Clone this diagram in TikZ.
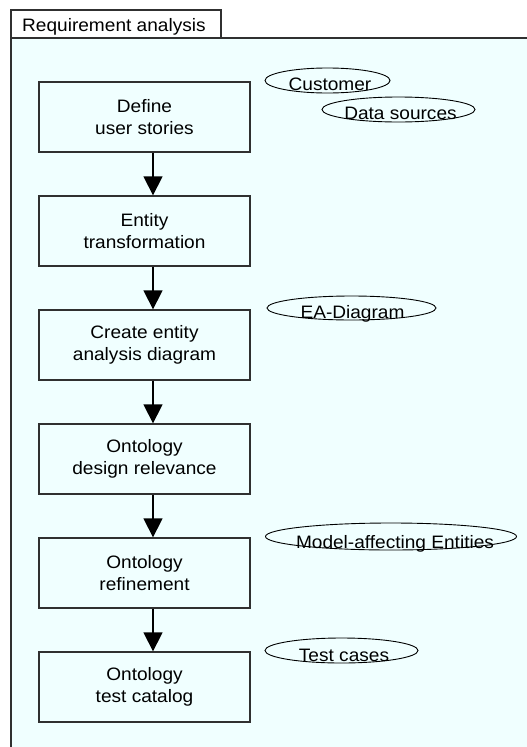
\documentclass[tikz,border=0pt]{standalone}
\usepackage{fontspec}
\setmainfont{Liberation Sans}[FakeStretch=1.06]
\usetikzlibrary{arrows.meta,shapes.geometric}
\definecolor{panel}{HTML}{F0FFFF}
\definecolor{frameline}{HTML}{303030}
\tikzset{
  stepbox/.style={draw=frameline, line width=1.3pt, rectangle, minimum width=211pt, minimum height=70pt,
    align=center, font=\fontsize{18}{22}\selectfont, inner sep=0pt},
  artifact/.style={draw=black, line width=0.9pt, ellipse, inner sep=0pt},
  arttext/.style={font=\fontsize{18}{22}\selectfont, anchor=base, inner sep=0pt},
  flow/.style={line width=1.3pt, -{Triangle[width=19pt,length=19pt]}},
}
\begin{document}
\begin{tikzpicture}[x=1pt,y=-1pt]
\useasboundingbox (0,0) rectangle (527,747);
\clip (0,0) rectangle (527,747);
\fill[white] (0,0) rectangle (527,747);
% frame
\filldraw[fill=panel, draw=frameline, line width=1.3pt] (11,38) rectangle (540,760);
\filldraw[fill=white, draw=frameline, line width=1.3pt] (11,10) rectangle (221,38);
\node[font=\fontsize{18}{22}\selectfont, anchor=base west, inner sep=0pt] (title) at (22,31) {Requirement analysis};
% steps
\node[stepbox] (s1) at (144.5,117) {Define\\user stories};
\node[stepbox] (s2) at (144.5,231) {Entity\\transformation};
\node[stepbox] (s3) at (144.5,345) {Create entity\\analysis diagram};
\node[stepbox] (s4) at (144.5,459) {Ontology\\design relevance};
\node[stepbox] (s5) at (144.5,573) {Ontology\\refinement};
\node[stepbox] (s6) at (144.5,687) {Ontology\\test catalog};
\foreach \a/\b in {s1/s2,s2/s3,s3/s4,s4/s5,s5/s6}
  \draw[flow] ([xshift=8.5pt]\a.south) -- ([xshift=8.5pt]\b.north);
% artifacts
\node[artifact, minimum width=125pt, minimum height=25pt] (cust) at (327.5,80.5) {};
\node[arttext] (custt) at (330,90) {Customer};
\node[artifact, minimum width=153pt, minimum height=25pt] (data) at (398.5,109.5) {};
\node[arttext] (datat) at (400.5,119) {Data sources};
\node[artifact, minimum width=169pt, minimum height=24pt] (ea) at (351.5,308) {};
\node[arttext] (eat) at (352.5,318) {EA-Diagram};
\node[artifact, minimum width=251pt, minimum height=27pt] (mae) at (391,536.5) {};
\node[arttext] (maet) at (395,548) {Model-affecting Entities};
\node[artifact, minimum width=153pt, minimum height=25pt] (tc) at (341.5,650.5) {};
\node[arttext] (tct) at (344,661) {Test cases};
\end{tikzpicture}
\end{document}
